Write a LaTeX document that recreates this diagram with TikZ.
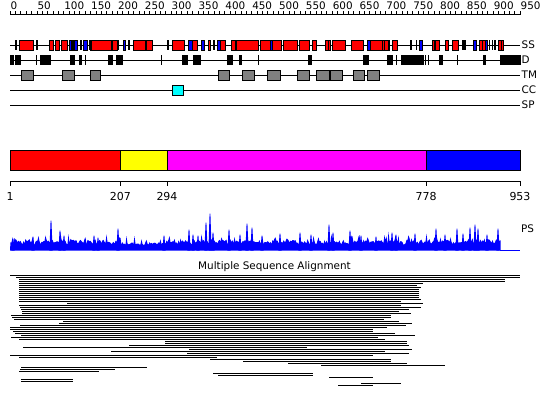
\documentclass[tikz,border=0pt]{standalone}
\usepackage{fontspec}
\setmainfont{DejaVu Sans}
\usepackage{xcolor}
\usepackage{tikz}
\definecolor{helixred}{RGB}{255,0,0}
\definecolor{strandblue}{RGB}{0,0,255}
\definecolor{tmgray}{RGB}{128,128,128}
\definecolor{cccyan}{RGB}{0,255,255}
\definecolor{domyellow}{RGB}{255,255,0}
\definecolor{dommagenta}{RGB}{255,0,255}

\begin{document}
\begin{tikzpicture}[x=1pt, y=-1pt,
  every node/.style={font=\fontsize{10.4}{12}\selectfont, inner sep=0pt},
  trk/.style={line width=0.8pt},
  helix/.style={draw, fill=helixred, line width=0.6pt},
  strand/.style={draw, fill=strandblue, line width=0.6pt},
  tmbox/.style={draw, fill=tmgray, line width=0.6pt},
  ccbox/.style={draw, fill=cccyan, line width=0.6pt},
  dom/.style={draw, line width=0.8pt},
  aln/.style={line width=1.2pt}
]
\useasboundingbox[fill=white] (0,0) rectangle (550,407);

% Ruler (residues)
\draw[trk] (10,14.5) -- (520,14.5);
\foreach \n in {0,10,...,950}
  \draw[line width=0.6pt] ({10+\n*0.5368},14.5) -- ++(0,-3.5);
\foreach \n in {0,50,...,950}
  \node[anchor=base west] (r\n) at ({10.5+\n*0.5368},9.3) {\n};

% Tracks
\foreach \y/\lab in {45/SS,60/D,75/TM,90/CC,105/SP} {
  \draw[trk] (10,\y) -- (520,\y);
  \node[anchor=west] (\lab) at (521.5,\y) {\lab};
}

% SS: helices, strands, bars
\foreach \a/\b in {19.3/33.3, 49.3/53.3, 55.3/59.3, 61.7/67.7, 72/73.5, 91.7/111.7,
    112.7/117.3, 133.3/145.3, 146.3/152.3, 172.7/184.3, 192.7/197.3, 208.7/210.7,
    220.7/225.3, 231/235.7, 236.7/258.3, 260.3/270.7, 272.7/281.7, 283/297.7,
    299/309, 312.3/316.3, 325.7/330.3, 332.3/345, 351.3/363.3, 370.3/382.3,
    382.7/389, 392.3/397.3, 432.7/439.3, 445/448.3, 452.3/458.3, 479.3/485.7, 498.3/503}
  \draw[helix] (\a,40) rectangle (\b,50);
\foreach \a/\b in {69/71.7, 74.5/77.5, 83.7/87.3, 90/91.7, 123.3/125.3, 188.3/192.3,
    201.7/204.3, 217.3/220, 270.7/272.7, 367/370.3, 419.7/422.7, 434/435.5,
    473/476.7, 485.7/487.3}
  \draw[strand] (\a,40) rectangle (\b,50);
\foreach \a/\b in {15/16.5, 36/37.5, 80.3/81.5, 88.7/90, 117.3/119.3, 128.3/129.5,
    167.3/168.7, 208/209.3, 213.3/214.7, 325/326.3, 327.5/328.5, 384/385,
    388.3/389.7, 410.3/411.7, 416/417.3, 431.7/433, 462.3/465.7, 481.5/482.7,
    489/490.3, 491.7/493, 494.3/495.6, 500.5/501.7}
  \fill (\a,40) rectangle (\b,50);

% D
\foreach \a/\b in {10/14, 14.7/20.7, 36/36.8, 40/50.7, 70/74.7, 79/81.7, 85/85.8,
    108.3/113, 116/123, 161/161.8, 182/187.7, 193.3/200.7, 227/232.7, 239/241.7,
    258.3/259.1, 307.7/311.7, 362.7/369, 387/393, 396/396.8, 401/423.7,
    425.3/426.3, 427.5/428.5, 439/443, 456.7/457.5, 483/486.3, 500.3/521}
  \fill (\a,55) rectangle (\b,65);

% TM
\foreach \a/\b in {21.3/33.3, 62.3/74.3, 90.3/100.7, 218.3/229.7, 242.3/254.3,
    267.7/280.3, 297/309, 316.3/329, 330.3/342.3, 353/364.3, 367/379}
  \draw[tmbox] (\a,70) rectangle (\b,80);

% CC
\draw[ccbox] (172.3,85) rectangle (183.3,95);

% Domains
\draw[dom, fill=helixred] (10,150) rectangle (120.4,170);
\draw[dom, fill=domyellow] (120.4,150) rectangle (167,170);
\draw[dom, fill=dommagenta] (167,150) rectangle (426.2,170);
\draw[dom, fill=strandblue] (426.2,150) rectangle (520,170);

\draw[trk] (10,181) -- (520,181);
\foreach \n/\x in {1/10, 207/120.4, 294/167, 778/426.2, 953/520} {
  \draw[trk] (\x,181) -- (\x,186);
  \node[anchor=base, font=\fontsize{11}{13}\selectfont] (b\n) at (\x,200) {\n};
}

% PS
\pgfmathsetseed{4711}
\fill[strandblue] (10,250.5) \foreach \x in {10.5,11.5,...,500.5} {
    -- (\x,{250.5-5.5-3*rnd-(1-(\x>120)*(\x<162))*3.5*rnd-(rnd>0.86)*8*rnd}) }
    -- (500.5,250.5) -- cycle;
\foreach \x/\h in {13/12, 33/14, 51/30, 60/20, 64/15, 94/15, 98/13, 118/22,
    164/15, 189/21, 193/16, 198/15, 206/28, 210/37, 213/18, 229/21, 240/16,
    247/27, 252/23, 262/15, 280/17, 300/18, 311/16, 329/26, 333/18, 350/20,
    361/15, 376/14, 392/18, 396/16, 415/17, 436/22, 445/16, 457/22, 463/17,
    470/23, 475/26, 478/22, 487/16, 498/22}
  \fill[strandblue] (\x-1.6,250.5) -- (\x-0.4,250.5-\h) -- (\x+0.4,250.5-\h)
    -- (\x+1.6,250.5) -- cycle;
\draw[strandblue, line width=1pt] (500,250) -- (520,250);
\node[anchor=west] (PS) at (521,229) {PS};

% Alignment
\node[anchor=base] (msa) at (274.5,269) {Multiple Sequence Alignment};
\foreach \a/\b [count=\i] in {10/520, 16/520, 19/505, 19/505, 19/423, 19/417,
    19/421, 19/419, 19/419, 19/419, 19/419, 19/419, 19/421, 19/401, 67/423,
    19/401, 20/421, 21/409, 22/399, 22/411, 11/391, 12/391, 14/384, 63/399,
    59/412, 20/406, 10/387, 10/373, 13/373, 15/395, 21/415, 11/378, 19/385,
    165/407, 165/407, 129/409, 23/307, 189/412, 111/385, 187/409, 10/373,
    19/217, 210/391, 243/391, 288/407, 321/445}
  \draw[aln] (\a,{273.5+2*\i}) -- (\b,{273.5+2*\i});
\foreach \y/\a/\b in {367.5/21/147, 369.5/20/115, 371.5/19/99, 373.5/213/313,
    375.5/218/313, 377.5/329/373, 379.5/21/73, 381.5/21/73, 383.5/361/401,
    385.5/338/373}
  \draw[aln] (\a,\y) -- (\b,\y);

\end{tikzpicture}
\end{document}
